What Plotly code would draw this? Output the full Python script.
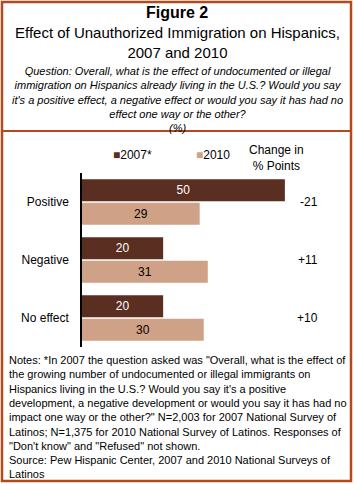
import plotly.graph_objects as go

categories = ["Positive", "Negative", "No effect"]
values_2007 = [50, 20, 20]
values_2010 = [29, 31, 30]
change_labels = ["-21", "+11", "+10"]
series_names = ["2007*", "2010"]

W, H = 354, 484
def fx(px):
    return px / W
def fy(py):
    return 1 - py / H

C2007 = "#5b2e22"
C2010 = "#cfa187"
BORDER = "#b5491c"
FONT = "Arial, Liberation Sans, sans-serif"

fig = go.Figure()
fig.add_trace(go.Bar(
    y=categories, x=values_2007, name=series_names[0], orientation="h",
    marker=dict(color=C2007, line=dict(width=0)),
    text=values_2007, textposition="inside", insidetextanchor="middle",
    textfont=dict(color="white", size=12, family=FONT), hoverinfo="skip",
))
fig.add_trace(go.Bar(
    y=categories, x=values_2010, name=series_names[1], orientation="h",
    marker=dict(color=C2010, line=dict(width=0)),
    text=values_2010, textposition="inside", insidetextanchor="middle",
    textfont=dict(color="black", size=12, family=FONT), hoverinfo="skip",
))

annotations = []
annotations.append(dict(x=0.5, y=fy(13), xref="paper", yref="paper", text="<b>Figure 2</b>",
                        showarrow=False, font=dict(size=16, color="black", family=FONT), yanchor="middle"))
annotations.append(dict(x=0.5, y=fy(43), xref="paper", yref="paper",
                        text="Effect of Unauthorized Immigration on Hispanics,<br>2007 and 2010",
                        showarrow=False, font=dict(size=15, color="black", family=FONT), yanchor="middle"))
annotations.append(dict(x=0.5, y=fy(99), xref="paper", yref="paper",
                        text="<i>Question: Overall, what is the effect of undocumented or illegal<br>"
                             "immigration on Hispanics already living in the U.S.? Would you say<br>"
                             "it's a positive effect, a negative effect or would you say it has had no<br>"
                             "effect one way or the other?<br>(%)</i>",
                        showarrow=False, font=dict(size=11, color="black", family=FONT), yanchor="middle"))
# legend drawn as text keys
leg_x = [111, 194]
for name, col, lx in zip(series_names, [C2007, C2010], leg_x):
    annotations.append(dict(x=fx(lx), y=fy(155), xref="paper", yref="paper", xanchor="left",
                            text=f"<span style='color:{col}'>■</span>{name}", showarrow=False,
                            font=dict(size=12, color="black", family=FONT), yanchor="middle"))
annotations.append(dict(x=fx(306), y=fy(158), xref="paper", yref="paper",
                        text="Change in<br>% Points", showarrow=False,
                        font=dict(size=12, color="black", family=FONT), yanchor="middle"))
for cat, ch in zip(categories, change_labels):
    annotations.append(dict(x=fx(320), y=cat, xref="paper", yref="y", text=ch, showarrow=False,
                            font=dict(size=12, color="black", family=FONT), yanchor="middle"))
annotations.append(dict(x=fx(7), y=fy(417), xref="paper", yref="paper", xanchor="left", align="left",
                        text="Notes: *In 2007 the question asked was \"Overall, what is the effect of<br>"
                             "the growing number of undocumented or illegal immigrants on<br>"
                             "Hispanics living in the U.S.? Would you say it's a positive<br>"
                             "development, a negative development or would you say it has had no<br>"
                             "impact one way or the other?\" N=2,003 for 2007 National Survey of<br>"
                             "Latinos; N=1,375 for 2010 National Survey of Latinos. Responses of<br>"
                             "\"Don't know\" and \"Refused\" not shown.<br>"
                             "Source: Pew Hispanic Center, 2007 and 2010 National Surveys of<br>"
                             "Latinos",
                        showarrow=False, font=dict(size=11, color="black", family=FONT), yanchor="middle"))

shapes = [
    dict(type="rect", xref="paper", yref="paper", x0=fx(2), x1=fx(351), y0=fy(481), y1=fy(2),
         line=dict(color=BORDER, width=2.5)),
    dict(type="line", xref="paper", yref="paper", x0=fx(2), x1=fx(351), y0=fy(131), y1=fy(131),
         line=dict(color=BORDER, width=2)),
]

fig.update_layout(
    width=W, height=H, margin=dict(l=0, r=0, t=0, b=0),
    paper_bgcolor="white", plot_bgcolor="white", showlegend=False,
    barmode="group", bargap=0.19, bargroupgap=0.06,
    font=dict(family=FONT, size=12, color="black"),
    xaxis=dict(domain=[fx(82), fx(293)], range=[0, 52], visible=False, fixedrange=True),
    yaxis=dict(domain=[fy(347), fy(173)], autorange="reversed", showline=True,
               linecolor="black", linewidth=1.5, ticks="", showgrid=False,
               tickfont=dict(size=12, color="black", family=FONT), ticklabelstandoff=9),
    annotations=annotations, shapes=shapes,
)

fig.write_html("out.html", config={"displayModeBar": False})
